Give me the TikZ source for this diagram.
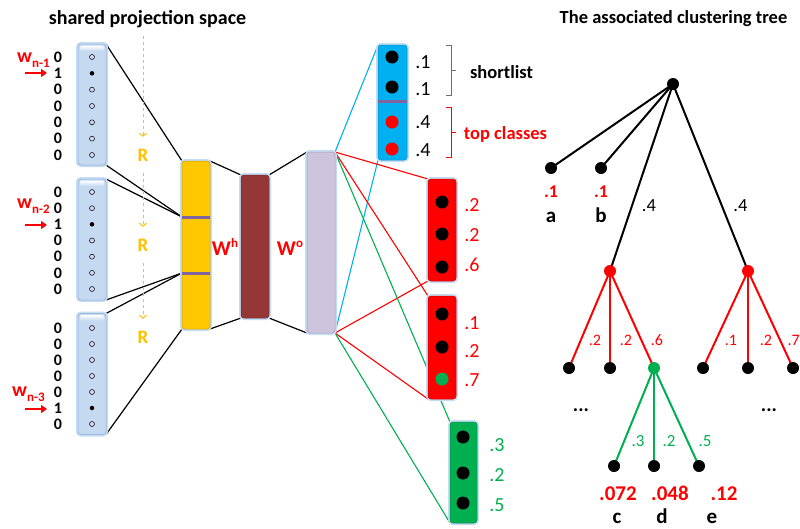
\documentclass[tikz,border=0pt]{standalone}
\usepackage{fontspec}
\setmainfont{Carlito}
\usetikzlibrary{arrows.meta,calc}
\pgfdeclarelayer{bg}
\pgfdeclarelayer{back}
\pgfsetlayers{back,bg,main}
\definecolor{inblue}{RGB}{197,217,241}
\definecolor{inedge}{RGB}{141,172,210}
\definecolor{glowc}{RGB}{196,220,244}
\definecolor{gold}{RGB}{255,200,0}
\definecolor{dred}{RGB}{150,55,55}
\definecolor{lav}{RGB}{206,196,222}
\definecolor{purp}{RGB}{128,100,162}
\definecolor{cyanb}{RGB}{0,176,240}
\definecolor{gr}{RGB}{0,176,80}
\definecolor{rr}{RGB}{255,0,0}
\definecolor{orng}{RGB}{255,192,0}
\definecolor{brk}{RGB}{110,110,110}
\begin{document}
\begin{tikzpicture}[x=1pt,y=-1pt,
 glow/.style={preaction={draw=glowc, line width=4pt}},
 bar/.style={rectangle, rounded corners=3pt, minimum width=28pt, inner sep=0pt, outer sep=0pt, glow, line width=0.5pt},
 inbox/.style={bar, fill=inblue, draw=inedge, minimum height=121pt},
 hilite/.style={top color=white, bottom color=inblue, rounded corners=2pt},
 odot/.style={circle, draw=black, line width=0.5pt, minimum size=5pt, inner sep=0pt},
 fdot/.style={circle, fill=black, minimum size=4.5pt, inner sep=0pt},
 bdot/.style={circle, fill=black, minimum size=13pt, inner sep=0pt},
 digit/.style={font=\bfseries\fontsize{16}{16}\selectfont, inner sep=1pt},
 wlab/.style={text=rr, font=\bfseries\fontsize{20}{20}\selectfont, inner sep=0pt},
 warrow/.style={draw=rr, line width=2pt, -{Triangle[length=6pt,width=8pt]}},
 conn/.style={draw=black, line width=1.2pt},
 rline/.style={draw=orng, line width=1pt, dashed, -{Straight Barb[length=3pt,width=7pt]}},
 rlab/.style={text=orng, font=\bfseries\fontsize{19}{19}\selectfont, minimum height=36pt, inner sep=0pt},
 sepl/.style={draw=purp, line width=3pt},
 wmat/.style={text=rr, font=\bfseries\fontsize{21}{21}\selectfont, inner sep=0pt},
 prob/.style={font=\fontsize{20}{20}\selectfont, inner sep=0pt},
 title/.style={font=\bfseries\fontsize{18.5}{18.5}\selectfont, inner sep=0pt},
 tn/.style={circle, fill=black, minimum size=12pt, inner sep=0pt},
 tedge/.style={line width=2pt},
 elab/.style={font=\fontsize{16}{16}\selectfont, inner sep=0pt, anchor=base},
 vlab/.style={font=\bfseries\fontsize{21}{21}\selectfont, inner sep=0pt, anchor=base, text=rr},
 llab/.style={font=\bfseries\fontsize{21}{21}\selectfont, inner sep=0pt, anchor=base}
]
\clip (0,0) rectangle (800,528);
\begin{pgfonlayer}{back}
\fill[white] (0,0) rectangle (800,528);
\end{pgfonlayer}

% titles
\node[title, font=\bfseries\fontsize{20}{20}\selectfont, anchor=base] (t1) at (147.5,24) {shared projection space};
\node[title, anchor=base] (t2) at (673.5,23) {The associated clustering tree};

% input boxes
\node[inbox] (in1) at (92,104.5) {};
\node[inbox] (in2) at (92,239.5) {};
\node[inbox] (in3) at (92,374) {};
\foreach \b in {in1,in2,in3} {
  \shade[hilite] ($(\b.north west)+(2,1.5)$) rectangle ($(\b.north east)+(-2,7)$);
}
\foreach \d [count=\i] in {0,1,0,0,0,0,0} {
  \node[digit] (ia\i) at (58,{57+16.33*(\i-1)}) {\d};
  \ifnum\d=1 \node[fdot] (da\i) at (92,{57+16.33*(\i-1)}) {};
  \else \node[odot] (da\i) at (92,{57+16.33*(\i-1)}) {}; \fi
}
\foreach \d [count=\i] in {0,0,1,0,0,0,0} {
  \node[digit] (ib\i) at (58,{192+16.17*(\i-1)}) {\d};
  \ifnum\d=1 \node[fdot] (db\i) at (92,{192+16.17*(\i-1)}) {};
  \else \node[odot] (db\i) at (92,{192+16.17*(\i-1)}) {}; \fi
}
\foreach \d [count=\i] in {0,0,0,0,0,1,0} {
  \node[digit] (ic\i) at (58,{328+16*(\i-1)}) {\d};
  \ifnum\d=1 \node[fdot] (dc\i) at (92,{328+16*(\i-1)}) {};
  \else \node[odot] (dc\i) at (92,{328+16*(\i-1)}) {}; \fi
}
% w labels and arrows
\node[wlab, anchor=base west] (w1) at (17,62) {w\raisebox{-5pt}{\fontsize{13}{13}\selectfont n-1}};
\node[wlab, anchor=base west] (w2) at (17,208) {w\raisebox{-5pt}{\fontsize{13}{13}\selectfont n-2}};
\node[wlab, anchor=base west] (w3) at (12,396) {w\raisebox{-5pt}{\fontsize{13}{13}\selectfont n-3}};
\coordinate (a1) at (25,73);
\coordinate (a2) at (25,225);
\coordinate (a3) at (25,409);
\draw[warrow] (a1) -- (47,73);
\draw[warrow] (a2) -- (47,225);
\draw[warrow] (a3) -- (47,409);

% R chain
\coordinate (rtop) at (143,36);
\node[rlab] (R1) at (143,155) {R};
\node[rlab] (R2) at (143,245) {R};
\node[rlab] (R3) at (143,337) {R};
\draw[rline] (rtop) -- (R1.north);
\draw[rline] (R1.south) -- (R2.north);
\draw[rline] (R2.south) -- (R3.north);

% hidden layers
\node[bar, fill=gold, draw=gold!80!black, minimum height=168pt] (yel) at (196,245) {};
\coordinate (s1l) at (182,217); \coordinate (s1r) at (210,217);
\coordinate (s2l) at (182,273); \coordinate (s2r) at (210,273);
\draw[sepl] (s1l) -- (s1r);
\draw[sepl] (s2l) -- (s2r);
\node[bar, fill=dred, draw=dred!80!black, minimum height=143pt] (dr) at (255,246.5) {};
\node[bar, fill=lav, draw=lav!80!black, minimum height=181pt] (lv) at (321,242.5) {};
\node[wmat, anchor=base] (wh) at (225,255) {W\raisebox{8pt}{\fontsize{13}{13}\selectfont h}};
\node[wmat, anchor=base] (wo) at (290,255) {W\raisebox{8pt}{\fontsize{13}{13}\selectfont o}};

% output boxes
\node[bar, fill=cyanb, draw=cyanb!80!black, minimum width=29pt, minimum height=115pt] (cy) at (392.5,102.5) {};
\coordinate (cs1) at (378,101); \coordinate (cs2) at (407,101);
\draw[sepl] (cs1) -- (cs2);
\node[bdot] (c1) at (392,57) {};
\node[bdot] (c2) at (392,87) {};
\node[bdot, fill=rr] (c3) at (392,122) {};
\node[bdot, fill=rr] (c4) at (392,149) {};
\node[prob, anchor=base] (p1) at (423,68) {.1};
\node[prob, anchor=base] (p2) at (423,95) {.1};
\node[prob, anchor=base] (p3) at (423,128) {.4};
\node[prob, anchor=base] (p4) at (423,156.5) {.4};
% brackets
\draw[brk, line width=1pt] (446,45) -- (451,45) -- (451,95) -- (446,95);
\draw[brk, line width=1pt] (451,70) -- (456,70);
\node[title, anchor=base] (sl) at (501.5,78) {shortlist};
\draw[rr, line width=1pt] (446,107) -- (451,107) -- (451,157) -- (446,157);
\draw[rr, line width=1pt] (451,132) -- (456,132);
\node[title, text=rr, anchor=base] (tc) at (505.5,139) {top classes};

\node[bar, fill=rr, draw=rr!80!black, minimum height=102pt] (rb1) at (442,230) {};
\node[bdot] (r11) at (442,202) {};
\node[bdot] (r12) at (442,234) {};
\node[bdot] (r13) at (442,267) {};
\node[prob, anchor=base, text=rr] (q11) at (472,211.5) {.2};
\node[prob, anchor=base, text=rr] (q12) at (472,241.5) {.2};
\node[prob, anchor=base, text=rr] (q13) at (472,271.5) {.6};

\node[bar, fill=rr, draw=rr!80!black, minimum height=103pt] (rb2) at (442,347.5) {};
\node[bdot] (r21) at (442,314) {};
\node[bdot] (r22) at (442,347) {};
\node[bdot, fill=gr] (r23) at (442,379) {};
\node[prob, anchor=base, text=rr] (q21) at (472,329) {.1};
\node[prob, anchor=base, text=rr] (q22) at (472,357.5) {.2};
\node[prob, anchor=base, text=rr] (q23) at (472,386.5) {.7};

\node[bar, fill=gr, draw=gr!80!black, minimum width=27pt, minimum height=101pt] (gb) at (463.5,472.5) {};
\node[bdot] (g1) at (463,437) {};
\node[bdot] (g2) at (463,473) {};
\node[bdot] (g3) at (463,503) {};
\node[prob, anchor=base, text=gr] (h1) at (497,451.5) {.3};
\node[prob, anchor=base, text=gr] (h2) at (497,481.5) {.2};
\node[prob, anchor=base, text=gr] (h3) at (497,511.5) {.5};

% connectors
\begin{pgfonlayer}{bg}
\draw[conn] (in1.north east) -- (yel.north west);
\draw[conn] (in1.south east) -- (s1l);
\draw[conn] (in2.north east) -- (s1l);
\draw[conn] (in2.south east) -- (s2l);
\draw[conn] (in3.north east) -- (s2l);
\draw[conn] (in3.south east) -- (yel.south west);
\draw[conn] (yel.north east) -- (dr.north west);
\draw[conn] (yel.south east) -- (dr.south west);
\draw[conn] (dr.north east) -- (lv.north west);
\draw[conn] (dr.south east) -- (lv.south west);
\draw[cyanb, line width=1.1pt] (lv.north east) -- (cy.north west);
\draw[cyanb, line width=1.1pt] (lv.south east) -- (cy.south west);
\draw[rr, line width=1.1pt] (lv.north east) -- (rb1.north west);
\draw[rr, line width=1.1pt] (lv.north east) -- (rb2.north west);
\draw[rr, line width=1.1pt] (lv.south east) -- (rb1.south west);
\draw[rr, line width=1.1pt] (lv.south east) -- (rb2.south west);
\draw[gr, line width=1.1pt] (lv.north east) -- (gb.north west);
\draw[gr, line width=1.1pt] (lv.south east) -- (gb.south west);
\end{pgfonlayer}

% tree
\node[tn] (root) at (673,84) {};
\node[tn] (ta) at (551,168) {};
\node[tn] (tb) at (601,168) {};
\node[tn, fill=rr] (tL) at (610,271) {};
\node[tn, fill=rr] (tR) at (748,271) {};
\node[tn] (L1) at (569,368) {};
\node[tn] (L2) at (610,368) {};
\node[tn, fill=gr] (L3) at (654,368) {};
\node[tn] (R1n) at (703,368) {};
\node[tn] (R2n) at (748,368) {};
\node[tn] (R3n) at (793,368) {};
\node[tn] (tc1) at (614,466) {};
\node[tn] (tc2) at (654,466) {};
\node[tn] (tc3) at (699,466) {};
\begin{pgfonlayer}{bg}
\draw[tedge] (root.center) -- (ta.center);
\draw[tedge] (root.center) -- (tb.center);
\draw[tedge] (root.center) -- (tL.center);
\draw[tedge] (root.center) -- (tR.center);
\draw[tedge, rr] (tL.center) -- (L1.center);
\draw[tedge, rr] (tL.center) -- (L2.center);
\draw[tedge, rr] (tL.center) -- (L3.center);
\draw[tedge, rr] (tR.center) -- (R1n.center);
\draw[tedge, rr] (tR.center) -- (R2n.center);
\draw[tedge, rr] (tR.center) -- (R3n.center);
\draw[tedge, gr] (L3.center) -- (tc1.center);
\draw[tedge, gr] (L3.center) -- (tc2.center);
\draw[tedge, gr] (L3.center) -- (tc3.center);
\end{pgfonlayer}
\node[vlab, font=\bfseries\fontsize{18}{18}\selectfont] (pa) at (551,197.5) {.1};
\node[vlab, font=\bfseries\fontsize{18}{18}\selectfont] (pb) at (601,197.5) {.1};
\node[llab] (la) at (551,222) {a};
\node[llab] (lb) at (601,222) {b};
\node[elab, font=\fontsize{18.5}{18.5}\selectfont] (e1) at (649,211.5) {.4};
\node[elab, font=\fontsize{18.5}{18.5}\selectfont] (e2) at (740.5,211.5) {.4};
\node[elab, text=rr] (e3) at (595,345) {.2};
\node[elab, text=rr] (e4) at (626,345) {.2};
\node[elab, text=rr] (e5) at (657,345) {.6};
\node[elab, text=rr] (e6) at (731,345) {.1};
\node[elab, text=rr] (e7) at (766,345) {.2};
\node[elab, text=rr, anchor=base east] (e8) at (800,345) {.7};
\node[llab, font=\bfseries\fontsize{20}{20}\selectfont, anchor=center] (dd1) at (581,410) {...};
\node[llab, font=\bfseries\fontsize{20}{20}\selectfont, anchor=center] (dd2) at (769,410) {...};
\node[elab, text=gr, font=\fontsize{17}{17}\selectfont] (e9) at (638,446) {.3};
\node[elab, text=gr, font=\fontsize{17}{17}\selectfont] (e10) at (669,446) {.2};
\node[elab, text=gr, font=\fontsize{17}{17}\selectfont] (e11) at (705,446) {.5};
\node[vlab] (v1) at (618,500.5) {.072};
\node[vlab] (v2) at (670,500.5) {.048};
\node[vlab] (v3) at (724,500.5) {.12};
\node[llab] (lc) at (617,523) {c};
\node[llab] (ld) at (662,523) {d};
\node[llab] (le) at (712,523) {e};
\end{tikzpicture}
\end{document}
